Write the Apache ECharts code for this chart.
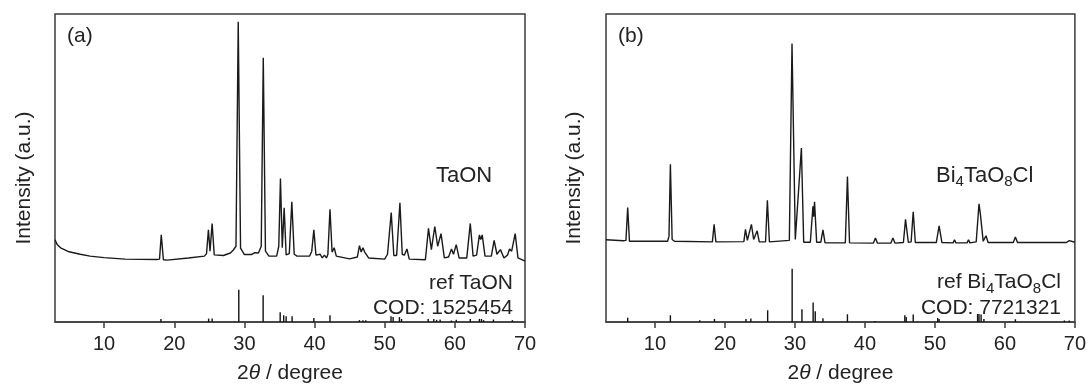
<!DOCTYPE html>
<html>
<head>
<meta charset="utf-8">
<script src="https://cdn.jsdelivr.net/npm/echarts@6/dist/echarts.min.js"></script>
<style>
html,body{margin:0;padding:0;background:#fff;}
#chart{width:1089px;height:389px;}
</style>
</head>
<body>
<div id="chart"></div>
<script>
// ---------- data ----------
const xTicks = [10, 20, 30, 40, 50, 60, 70];
const xMin = 3, xMax = 70;

// (a) measured TaON pattern  [2theta, intensity a.u.]
const taonCurve = [
  [3.0,26.7],[3.3,25.2],[3.8,24.1],[5.0,22.8],[6.6,22.0],[8.0,21.4],[10,20.9],[13,20.4],[17.5,20.3],
  [17.9,20.4],[18.15,28.3],[18.45,20.2],[19,20.1],[22,20.8],[24.3,21.4],[24.6,22.2],
  [24.87,29.9],[25.1,23.0],[25.4,32.0],[25.7,21.8],[27,21.6],[28.0,22.4],[28.4,23.3],[28.8,24.6],
  [29.12,97.5],[29.45,24.0],[30,21.9],[31,21.9],[31.5,22.5],[32.0,22.4],[32.4,24.6],
  [32.69,85.8],[33.0,23.0],[33.5,21.4],[34.6,21.4],[34.9,24.6],
  [35.14,46.6],[35.4,24.1],[35.67,37.1],[35.95,21.8],[36.4,22.2],[36.76,39.0],[37.1,22.0],[37.5,21.4],
  [39.3,21.4],[39.6,23.0],[39.9,29.9],[40.2,21.7],[40.8,22.0],[41.1,20.8],[41.4,21.7],[41.7,20.8],
  [41.9,22.0],[42.2,36.6],[42.5,22.7],[42.8,24.1],[43.1,21.4],[45,20.5],[46.1,21.1],
  [46.4,24.8],[46.65,22.7],[46.9,24.1],[47.15,22.7],[47.4,23.3],[47.7,20.8],[50.0,20.4],
  [50.4,22.0],[50.55,22.5],[50.93,35.5],[51.3,21.6],[51.7,21.6],[52.17,38.7],[52.5,22.0],[52.8,21.7],
  [53.17,23.7],[53.5,20.4],[55.8,20.2],[56.24,30.4],[56.65,23.5],[57.14,31.0],[57.55,24.6],
  [58.03,28.7],[58.5,20.8],[59.1,21.1],[59.52,23.7],[59.8,22.0],[60.2,25.1],[60.6,20.8],[61.7,20.8],
  [62.2,32.0],[62.6,21.4],[63.1,21.7],[63.5,28.3],[63.7,26.8],[63.9,28.3],[64.3,21.4],[65.2,21.4],
  [65.6,26.5],[66.0,22.0],[66.5,23.5],[67.0,20.8],[67.5,21.7],[67.8,23.7],[68.1,23.0],
  [68.6,28.7],[69.0,20.8],[70,19.8]
];
// (a) reference sticks COD 1525454
const taonRef = [
  [18.1,1.0],[24.9,1.1],[25.4,1.1],[29.2,10.5],[32.67,8.7],[35.1,3.2],[35.6,2.2],[35.95,1.9],[36.8,1.9],
  [39.9,1.3],[42.2,2.2],[46.4,0.6],[46.9,0.6],[47.3,0.6],[50.9,1.9],[51.2,1.6],[52.1,1.6],[52.4,1.0],
  [56.2,1.0],[57.0,1.0],[57.4,0.7],[57.9,0.8],[59.5,0.5],[60.2,0.7],[62.2,1.0],[63.5,1.0],[63.8,1.0],
  [64.1,0.6],[65.5,0.8],[68.2,0.6]
];

// (b) measured Bi4TaO8Cl pattern
const bitaoCurve = [
  [3.0,26.7],[5.5,26.4],[5.85,26.5],[6.1,37.2],[6.35,26.2],[11.8,26.2],[12.0,27.8],[12.2,51.2],[12.45,26.8],
  [12.8,26.2],[18.2,26.0],[18.45,31.7],[18.7,26.0],[22.7,26.1],[22.93,30.1],[23.2,26.5],[23.78,31.7],
  [24.1,26.8],[24.6,29.6],[24.9,26.0],[25.8,26.0],[26.06,39.5],[26.35,26.0],[29.2,26.5],[29.58,90.4],
  [30.05,26.8],[30.92,56.5],[31.25,25.9],[32.2,25.9],[32.57,37.6],[32.68,34.2],[32.8,39.0],[33.1,25.9],
  [33.7,25.9],[34.0,29.9],[34.3,25.7],[37.2,25.7],[37.5,47.2],[37.8,25.7],[41.2,25.6],[41.5,27.3],
  [41.8,25.6],[43.7,25.6],[44.0,27.3],[44.3,25.6],[45.5,25.8],[45.8,33.3],[46.2,25.9],[46.6,26.0],
  [46.9,35.8],[47.2,25.8],[50.2,25.8],[50.6,31.2],[51.0,25.8],[52.6,25.7],[52.8,26.7],[53.0,25.7],
  [54.6,25.7],[54.8,26.7],[55.0,25.7],[55.9,26.0],[56.3,38.4],[56.5,35.0],[56.9,26.2],[57.3,28.0],
  [57.6,25.8],[61.2,25.8],[61.5,27.6],[61.8,25.8],[62.4,25.8],[62.6,26.4],[62.8,25.8],[68.4,25.8],
  [68.6,26.4],[68.8,25.8],[69.2,26.4],[69.4,25.8],[70,25.9]
];
// (b) reference sticks COD 7721321
const bitaoRef = [
  [6.1,1.4],[12.2,2.2],[16.4,0.6],[18.5,1.0],[23.0,1.0],[23.7,1.1],[26.1,3.8],[29.6,17.3],[31.0,4.1],
  [32.6,6.3],[32.9,3.5],[34.0,1.2],[37.5,2.5],[41.4,0.3],[45.7,2.2],[45.9,1.6],[46.9,2.4],[50.4,1.3],
  [50.6,1.0],[56.1,2.6],[56.3,2.6],[56.6,2.4],[57.0,1.0],[61.5,0.9],[68.5,0.5],[69.2,0.5]
];

// ---------- chart ----------
const FONT = 'Liberation Sans, Arial, sans-serif';
const TXT = '#222';
const FRAME = '#3c3c3c';

function xAxisFor(gridIndex){
  return {
    type:'value', gridIndex, min:xMin, max:xMax,
    name:'2{i|θ} / degree', nameLocation:'middle', nameGap:41,
    nameTextStyle:{fontFamily:FONT, fontSize:21, color:TXT, rich:{i:{fontFamily:FONT, fontSize:21, fontStyle:'italic', color:TXT}}},
    axisLine:{show:true, onZero:false, lineStyle:{color:FRAME, width:1.5}},
    axisTick:{show:true, inside:false, length:6, customValues:xTicks, lineStyle:{color:FRAME, width:1.5}},
    axisLabel:{show:true, customValues:xTicks, margin:12, fontFamily:FONT, fontSize:20, color:TXT},
    splitLine:{show:false}
  };
}
function yAxisFor(gridIndex){
  return {
    type:'value', gridIndex, min:0, max:100,
    axisLine:{show:false}, axisTick:{show:false}, axisLabel:{show:false}, splitLine:{show:false}
  };
}
function stickRender(params, api){
  const x = api.value(0), h = api.value(1);
  const p0 = api.coord([x, 0]);
  const p1 = api.coord([x, h]);
  return {type:'line', shape:{x1:p0[0], y1:p0[1], x2:p1[0], y2:p1[1]},
          style:{stroke:'#111', lineWidth:1.4}};
}
function curveSeries(idx, data){
  return {type:'line', xAxisIndex:idx, yAxisIndex:idx, data, showSymbol:false, symbol:'none',
          lineStyle:{color:'#1a1a1a', width:1.4}, animation:false, z:3};
}
function stickSeries(idx, data){
  return {type:'custom', xAxisIndex:idx, yAxisIndex:idx, data, renderItem:stickRender,
          animation:false, clip:true, z:3};
}

const chart = echarts.init(document.getElementById('chart'), null, {renderer:'canvas'});
chart.setOption({
  backgroundColor:'#fff',
  animation:false,
  grid:[
    {left:55, top:14, width:470, height:313, show:true, borderColor:FRAME, borderWidth:1.5, backgroundColor:'transparent'},
    {left:606, top:14, width:470, height:313, show:true, borderColor:FRAME, borderWidth:1.5, backgroundColor:'transparent'}
  ],
  xAxis:[xAxisFor(0), xAxisFor(1)],
  yAxis:[yAxisFor(0), yAxisFor(1)],
  series:[
    curveSeries(0, taonCurve), stickSeries(0, taonRef),
    curveSeries(1, bitaoCurve), stickSeries(1, bitaoRef)
  ],
  graphic:[
    {type:'text', x:24, y:178, rotation:Math.PI/2, style:{text:'Intensity (a.u.)', font:'21px '+FONT, fill:TXT, align:'center', verticalAlign:'middle'}},
    {type:'text', x:574, y:178, rotation:Math.PI/2, style:{text:'Intensity (a.u.)', font:'21px '+FONT, fill:TXT, align:'center', verticalAlign:'middle'}},
    {type:'text', left:67, top:26, style:{text:'(a)', font:'21px '+FONT, fill:TXT}},
    {type:'text', left:618, top:26, style:{text:'(b)', font:'21px '+FONT, fill:TXT}},
    {type:'text', left:436, top:165, style:{text:'TaON', font:'22px '+FONT, fill:TXT}},
    {type:'text', right:1089-513, top:273, style:{text:'ref TaON', font:'21px '+FONT, fill:TXT, align:'right'}},
    {type:'text', right:1089-513, top:298, style:{text:'COD: 1525454', font:'21px '+FONT, fill:TXT, align:'right'}},
    {type:'text', left:936, top:165, style:{
      text:'{n|Bi}{s|4}{n|TaO}{s|8}{n|Cl}',
      rich:{n:{fontFamily:FONT, fontSize:22, fill:TXT, color:TXT},
            s:{fontFamily:FONT, fontSize:15, fill:TXT, color:TXT, padding:[12,0,0,0]}}}},
    {type:'text', right:1089-1061, top:272, style:{
      text:'{n|ref Bi}{s|4}{n|TaO}{s|8}{n|Cl}',
      rich:{n:{fontFamily:FONT, fontSize:21, fill:TXT, color:TXT},
            s:{fontFamily:FONT, fontSize:15, fill:TXT, color:TXT, padding:[12,0,0,0]}}}},
    {type:'text', right:1089-1061, top:298, style:{text:'COD: 7721321', font:'21px '+FONT, fill:TXT, align:'right'}}
  ]
});
</script>
</body>
</html>
